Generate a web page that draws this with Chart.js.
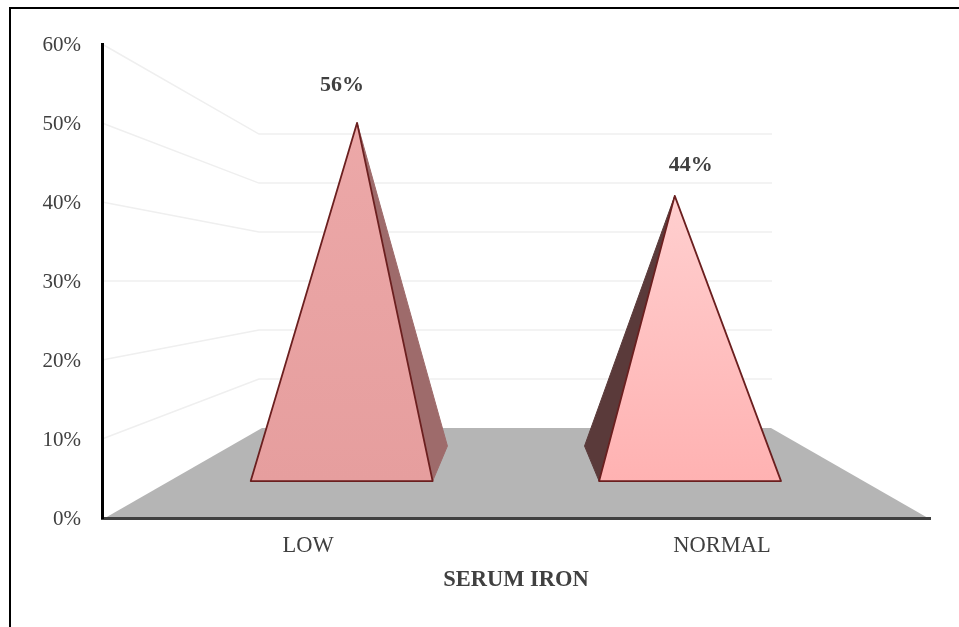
<!DOCTYPE html>
<html>
<head>
<meta charset="utf-8">
<title>Serum iron</title>
<style>
    html, body { margin: 0; padding: 0; background: #fff; overflow: hidden; }
    #frame { position: absolute; left: 9px; top: 7px; width: 950px; height: 620px; border-left: 2px solid #000; border-top: 2px solid #000; }
    #grafico { position: absolute; left: 0; top: 0; display: block; }
</style>
<script src="https://cdn.jsdelivr.net/npm/chart.js@4"></script>
</head>
<body>
<div id="frame"></div>
<canvas id="grafico" width="959" height="627"></canvas>
<script>
var categories = ["LOW", "NORMAL"];
var values = [56, 44];
var yTicks = [0, 10, 20, 30, 40, 50, 60];

var serifFont = "'Liberation Serif', 'Times New Roman', serif";
var textColor = "#404040";
var frontColors = [["#ECA8A8", "#E69E9E"], ["#FFCFCF", "#FFB2B2"]];
var sideColors = ["#9E6B6B", "#5A3A3A"];
var edgeColor = "#6B1F1F";

// how far each label sits from the tip of its pyramid
var labelShiftX = [-15, 16];
var labelShiftY = [-38, -31];
var pyramidNudge = [-1.5, 0];

// depth of the 3D box: 0 is the front plane, 1 the back wall
var depthX = 157;
var depthY = 90;
var backScale = 0.62;
var baseNear = 0.41;
var baseMiddle = 0.605;
var baseFar = 0.8;

function project(chart, x, y, depth) {
    var area = chart.chartArea;
    var u = (x - area.left) / area.width;
    var left = area.left + 3 + depthX * depth;
    var right = area.right - 2 - depthX * depth;
    var height = area.bottom - y;
    return {
        x: left + u * (right - left),
        y: area.bottom - depthY * depth - height * (1 - (1 - backScale) * depth)
    };
}

function polygon(ctx, points) {
    ctx.beginPath();
    ctx.moveTo(points[0].x, points[0].y);
    for (var i = 1; i < points.length; i++) {
        ctx.lineTo(points[i].x, points[i].y);
    }
    ctx.closePath();
}

class PyramidController extends Chart.BarController {
    draw() {
        var chart = this.chart;
        var ctx = chart.ctx;
        this.getMeta().data.forEach(function (bar, i) {
            var half = bar.width / 2;
            var x = bar.x + pyramidNudge[i];
            var apex = project(chart, x, bar.y, baseMiddle);
            var frontLeft = project(chart, x - half, bar.base, baseNear);
            var frontRight = project(chart, x + half, bar.base, baseNear);
            // LOW shows its right side, NORMAL its left side
            var sideX = i == 0 ? x + half : x - half;
            var sideNear = i == 0 ? frontRight : frontLeft;
            var sideFar = project(chart, sideX, bar.base, baseFar);

            ctx.save();
            ctx.lineJoin = "round";
            polygon(ctx, [sideNear, sideFar, apex]);
            ctx.fillStyle = sideColors[i];
            ctx.strokeStyle = sideColors[i];
            ctx.lineWidth = 1;
            ctx.fill();
            ctx.stroke();

            var gradient = ctx.createLinearGradient(0, apex.y, 0, frontLeft.y);
            gradient.addColorStop(0, frontColors[i][0]);
            gradient.addColorStop(1, frontColors[i][1]);
            polygon(ctx, [frontLeft, frontRight, apex]);
            ctx.fillStyle = gradient;
            ctx.strokeStyle = edgeColor;
            ctx.lineWidth = 1.8;
            ctx.fill();
            ctx.stroke();
            ctx.restore();

            ctx.save();
            ctx.fillStyle = textColor;
            ctx.font = "bold 22px " + serifFont;
            ctx.textAlign = "center";
            ctx.textBaseline = "middle";
            ctx.fillText(values[i] + "%", apex.x + labelShiftX[i], apex.y + labelShiftY[i]);
            ctx.restore();
        });
    }
}
PyramidController.id = "pyramid";
PyramidController.defaults = Chart.BarController.defaults;
Chart.register(PyramidController);

// floor and walls of the 3D box, behind the pyramids
var boxPlugin = {
    id: "box",
    beforeDatasetsDraw: function (chart) {
        var ctx = chart.ctx;
        var area = chart.chartArea;
        var yScale = chart.scales.y;

        ctx.save();
        ctx.strokeStyle = "#EFEFEF";
        ctx.lineWidth = 1.5;
        yTicks.forEach(function (tick) {
            if (tick == 0) return;
            var y = yScale.getPixelForValue(tick);
            var backLeft = project(chart, area.left, y, 1);
            var backRight = project(chart, area.right, y, 1);
            ctx.beginPath();
            ctx.moveTo(area.left, y);
            ctx.lineTo(backLeft.x - 3, backLeft.y);
            ctx.lineTo(backRight.x + 1, backRight.y);
            ctx.stroke();
        });
        polygon(ctx, [
            project(chart, area.left, area.bottom, 0),
            project(chart, area.right, area.bottom, 0),
            project(chart, area.right, area.bottom, 1),
            project(chart, area.left, area.bottom, 1)
        ]);
        ctx.fillStyle = "#B5B5B5";
        ctx.fill();
        ctx.restore();
    }
};

var ctx = document.getElementById("grafico").getContext("2d");
var myChart = new Chart(ctx, {
    type: "pyramid",
    data: {
        labels: categories,
        datasets: [
            {
                label: "SERUM IRON",
                data: values,
                barPercentage: 0.524,
                categoryPercentage: 1,
            },
        ],
    },
    plugins: [boxPlugin],
    options: {
        responsive: false,
        animation: false,
        events: [],
        layout: { padding: { top: 44, right: 29, left: 0, bottom: 0 } },
        plugins: {
            legend: { display: false },
            tooltip: { enabled: false },
        },
        scales: {
            x: {
                type: "category",
                offset: true,
                afterFit: function (scale) { scale.height = 109; },
                grid: { display: false },
                border: { display: true, color: "#404040", width: 3, z: 1 },
                ticks: {
                    color: textColor,
                    padding: 7,
                    labelOffset: -1,
                    maxRotation: 0,
                    font: { family: serifFont, size: 22.5 },
                },
                title: {
                    display: true,
                    text: "SERUM IRON",
                    color: textColor,
                    padding: { top: 0, bottom: 33 },
                    font: { family: serifFont, size: 22.5, weight: "bold" },
                },
            },
            y: {
                type: "linear",
                min: 0,
                max: 60,
                afterFit: function (scale) { scale.width = 102; },
                afterBuildTicks: function (scale) {
                    scale.ticks = yTicks.map(function (v) { return { value: v }; });
                },
                grid: { display: false },
                border: { display: true, color: "#000000", width: 3, z: 1 },
                ticks: {
                    color: textColor,
                    padding: 13,
                    labelOffset: 1,
                    font: { family: serifFont, size: 21 },
                    callback: function (value) {
                        return value + "%";
                    },
                },
            },
        },
    },
});
</script>
</body>
</html>
